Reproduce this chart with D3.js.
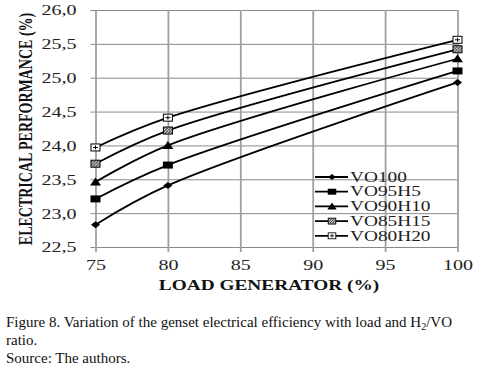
<!DOCTYPE html>
<html>
<head>
<meta charset="utf-8">
<script src="https://cdn.jsdelivr.net/npm/d3@7"></script>
<style>
  body { margin: 0; background: #fff; }
  svg { display: block; }
  svg text { font-family: "Liberation Serif", "Times New Roman", serif !important; }
</style>
</head>
<body>
<div id="chart"></div>
<script>
const loads = [75, 80, 100];
const vo100 = [22.83, 23.41, 24.93];
const vo95h5 = [23.21, 23.71, 25.10];
const vo90h10 = [23.46, 24.00, 25.28];
const vo85h15 = [23.73, 24.22, 25.42];
const vo80h20 = [23.97, 24.41, 25.56];
const seriesNames = ['VO100', 'VO95H5', 'VO90H10', 'VO85H15', 'VO80H20'];
const xTicks = [75, 80, 85, 90, 95, 100];
const yTicks = [22.5, 23.0, 23.5, 24.0, 24.5, 25.0, 25.5, 26.0];

const width = 485, height = 371;
const margin = {top: 10, right: 27.5, bottom: 124, left: 95.5};
const sx = 1.38; // the chart in the figure is stretched sideways

const svg = d3.select('#chart').append('svg')
  .attr('width', width).attr('height', height)
  .attr('viewBox', `0 0 ${width} ${height}`);

const defs = svg.append('defs');
const pat = defs.append('pattern')
  .attr('id', 'hatch').attr('patternUnits', 'userSpaceOnUse')
  .attr('width', 3).attr('height', 3);
pat.append('rect').attr('width', 3).attr('height', 3).attr('fill', '#fff');
pat.append('path').attr('d', 'M0,3 L3,0').attr('stroke', '#000').attr('stroke-width', 1.1);

const x = d3.scaleLinear().domain([75, 100]).range([margin.left, width - margin.right]);
const y = d3.scaleLinear().domain([22.5, 26]).range([height - margin.bottom, margin.top]);
const plotW = width - margin.left - margin.right;
const plotH = height - margin.top - margin.bottom;

// grid
svg.append('g')
  .attr('transform', `translate(${margin.left},0)`)
  .call(d3.axisLeft(y).tickValues(yTicks).tickSizeInner(-plotW).tickSizeOuter(0).tickFormat(''))
  .call(g => g.select('.domain').remove())
  .call(g => g.selectAll('.tick line').attr('stroke', '#8a8a8a').attr('stroke-width', 1));

svg.append('g')
  .attr('transform', `translate(0,${height - margin.bottom})`)
  .call(d3.axisBottom(x).tickValues(xTicks).tickSizeInner(-plotH).tickSizeOuter(0).tickFormat(''))
  .call(g => g.select('.domain').remove())
  .call(g => g.selectAll('.tick line').attr('stroke', '#a0a0a0').attr('stroke-width', 1.8));

// axes with labels
const fmt = d => d3.format('.1f')(d).replace('.', ',');
svg.append('g')
  .attr('transform', `translate(${margin.left},0)`)
  .call(d3.axisLeft(y).tickValues(yTicks).tickSize(5).tickFormat(fmt))
  .call(g => g.select('.domain').remove())
  .call(g => g.selectAll('.tick line').attr('stroke', '#8a8a8a'))
  .call(g => g.selectAll('.tick text')
      .attr('x', null).attr('dy', '0.34em')
      .attr('transform', `translate(-19,0) scale(${sx},1)`)
      .attr('font-size', 14.5).attr('fill', '#222'));

svg.append('g')
  .attr('transform', `translate(0,${height - margin.bottom})`)
  .call(d3.axisBottom(x).tickValues(xTicks).tickSize(5).tickFormat(d => d))
  .call(g => g.select('.domain').remove())
  .call(g => g.selectAll('.tick line').attr('stroke', '#a0a0a0').attr('stroke-width', 1.8))
  .call(g => g.selectAll('.tick text')
      .attr('y', null).attr('dy', null)
      .attr('transform', `translate(0,23) scale(${sx},1)`)
      .attr('font-size', 14.5).attr('fill', '#222'));

// axis titles
svg.append('text')
  .attr('transform', `translate(269,290) scale(${sx},1)`)
  .attr('text-anchor', 'middle')
  .attr('font-size', 14).attr('font-weight', 'bold').attr('fill', '#111')
  .text('LOAD GENERATOR (%)');

svg.append('text')
  .attr('transform', `translate(32,129) scale(${sx},1) rotate(-90)`)
  .attr('text-anchor', 'middle')
  .attr('font-size', 14).attr('font-weight', 'bold').attr('fill', '#111')
  .text('ELECTRICAL PERFORMANCE (%)');

// series
const data = [vo100, vo95h5, vo90h10, vo85h15, vo80h20];
const line = d3.line()
  .x((d, i) => x(loads[i]))
  .y(d => y(d))
  .curve(d3.curveCatmullRom.alpha(0.5));

svg.append('g')
    .attr('fill', 'none')
    .attr('stroke', '#000')
    .attr('stroke-width', 1.8)
  .selectAll('path')
  .data(data)
  .join('path')
    .attr('d', line);

const marker = (g, k) => {
  if (k === 0) {
    g.append('path').attr('d', 'M-4.5,0 L0,-3.5 L4.5,0 L0,3.5 Z').attr('fill', '#000');
  } else if (k === 1) {
    g.append('rect').attr('x', -5).attr('y', -3.5).attr('width', 10).attr('height', 7).attr('fill', '#000');
  } else if (k === 2) {
    g.append('path').attr('d', 'M-5.5,3.5 L0,-4.5 L5.5,3.5 Z').attr('fill', '#000');
  } else if (k === 3) {
    g.append('rect').attr('x', -4.5).attr('y', -3.5).attr('width', 9).attr('height', 7)
      .attr('fill', 'url(#hatch)').attr('stroke', '#000').attr('stroke-width', 1);
  } else {
    g.append('rect').attr('x', -4.5).attr('y', -3.5).attr('width', 9).attr('height', 7)
      .attr('fill', '#fff').attr('stroke', '#000').attr('stroke-width', 1);
    g.append('path').attr('d', 'M-2.5,0 H2.5 M0,-2 V2').attr('stroke', '#000').attr('stroke-width', 1);
  }
};

data.forEach((vals, k) => {
  svg.append('g').selectAll('g')
    .data(vals)
    .join('g')
      .attr('transform', (d, i) => `translate(${x(loads[i])},${y(d)})`)
      .each(function() { marker(d3.select(this), k); });
});

// legend
const legend = svg.append('g').selectAll('g')
  .data(seriesNames)
  .join('g')
    .attr('transform', (d, i) => `translate(315,${177 + i * 14.7})`);

legend.append('line')
  .attr('x1', 0).attr('x2', 33)
  .attr('stroke', '#000').attr('stroke-width', 1.8);
legend.each(function(d, i) {
  const g = d3.select(this).append('g').attr('transform', 'translate(17,0) scale(0.85)');
  marker(g, i);
});
legend.append('text')
  .attr('transform', `translate(35,0) scale(${sx},1)`)
  .attr('dy', '0.34em')
  .attr('font-size', 14).attr('fill', '#222')
  .text(d => d);

// caption
const cap = svg.append('g').attr('font-size', 15).attr('fill', '#111');
const line1 = cap.append('text').attr('x', 6).attr('y', 327);
line1.append('tspan').text('Figure 8. Variation of the genset electrical efficiency with load and H');
line1.append('tspan').attr('font-size', 10).attr('dy', 3).text('2');
line1.append('tspan').attr('dy', -3).text('/VO');
cap.append('text').attr('x', 6).attr('y', 345).text('ratio.');
cap.append('text').attr('x', 6).attr('y', 363).text('Source: The authors.');
</script>
</body>
</html>
